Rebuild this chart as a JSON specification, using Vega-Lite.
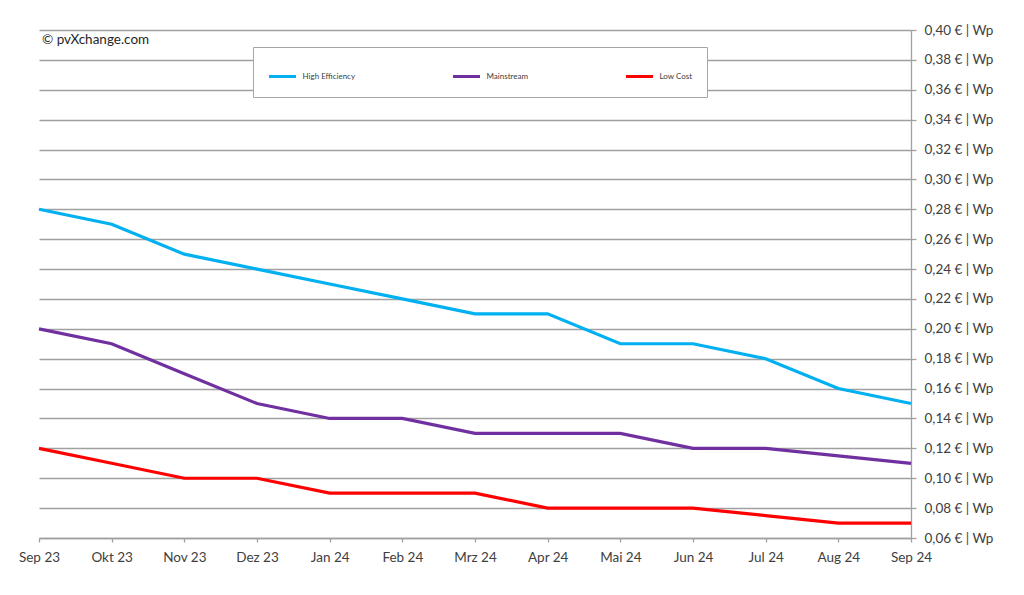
{
  "$schema": "https://vega.github.io/schema/vega-lite/v6.json",
  "width": 872,
  "height": 508,
  "autosize": "none",
  "padding": {"left": 39, "top": 30, "right": 113, "bottom": 57},
  "background": "white",
  "title": {
    "text": "© pvXchange.com",
    "anchor": "start",
    "frame": "group",
    "orient": "top",
    "offset": -10,
    "dx": 3,
    "dy": 20,
    "baseline": "middle",
    "font": "Lato",
    "fontSize": 13.5,
    "fontWeight": "normal",
    "color": "#262626"
  },
  "data": {
    "values": [
      {"month": "Sep 23", "series": "High Efficiency", "price": 0.28},
      {"month": "Okt 23", "series": "High Efficiency", "price": 0.27},
      {"month": "Nov 23", "series": "High Efficiency", "price": 0.25},
      {"month": "Dez 23", "series": "High Efficiency", "price": 0.24},
      {"month": "Jan 24", "series": "High Efficiency", "price": 0.23},
      {"month": "Feb 24", "series": "High Efficiency", "price": 0.22},
      {"month": "Mrz 24", "series": "High Efficiency", "price": 0.21},
      {"month": "Apr 24", "series": "High Efficiency", "price": 0.21},
      {"month": "Mai 24", "series": "High Efficiency", "price": 0.19},
      {"month": "Jun 24", "series": "High Efficiency", "price": 0.19},
      {"month": "Jul 24", "series": "High Efficiency", "price": 0.18},
      {"month": "Aug 24", "series": "High Efficiency", "price": 0.16},
      {"month": "Sep 24", "series": "High Efficiency", "price": 0.15},
      {"month": "Sep 23", "series": "Mainstream", "price": 0.20},
      {"month": "Okt 23", "series": "Mainstream", "price": 0.19},
      {"month": "Nov 23", "series": "Mainstream", "price": 0.17},
      {"month": "Dez 23", "series": "Mainstream", "price": 0.15},
      {"month": "Jan 24", "series": "Mainstream", "price": 0.14},
      {"month": "Feb 24", "series": "Mainstream", "price": 0.14},
      {"month": "Mrz 24", "series": "Mainstream", "price": 0.13},
      {"month": "Apr 24", "series": "Mainstream", "price": 0.13},
      {"month": "Mai 24", "series": "Mainstream", "price": 0.13},
      {"month": "Jun 24", "series": "Mainstream", "price": 0.12},
      {"month": "Jul 24", "series": "Mainstream", "price": 0.12},
      {"month": "Aug 24", "series": "Mainstream", "price": 0.115},
      {"month": "Sep 24", "series": "Mainstream", "price": 0.11},
      {"month": "Sep 23", "series": "Low Cost", "price": 0.12},
      {"month": "Okt 23", "series": "Low Cost", "price": 0.11},
      {"month": "Nov 23", "series": "Low Cost", "price": 0.10},
      {"month": "Dez 23", "series": "Low Cost", "price": 0.10},
      {"month": "Jan 24", "series": "Low Cost", "price": 0.09},
      {"month": "Feb 24", "series": "Low Cost", "price": 0.09},
      {"month": "Mrz 24", "series": "Low Cost", "price": 0.09},
      {"month": "Apr 24", "series": "Low Cost", "price": 0.08},
      {"month": "Mai 24", "series": "Low Cost", "price": 0.08},
      {"month": "Jun 24", "series": "Low Cost", "price": 0.08},
      {"month": "Jul 24", "series": "Low Cost", "price": 0.075},
      {"month": "Aug 24", "series": "Low Cost", "price": 0.07},
      {"month": "Sep 24", "series": "Low Cost", "price": 0.07}
    ]
  },
  "mark": {"type": "line", "strokeWidth": 3.2, "strokeJoin": "miter"},
  "encoding": {
    "x": {
      "field": "month",
      "type": "ordinal",
      "sort": ["Sep 23", "Okt 23", "Nov 23", "Dez 23", "Jan 24", "Feb 24", "Mrz 24", "Apr 24", "Mai 24", "Jun 24", "Jul 24", "Aug 24", "Sep 24"],
      "scale": {"type": "point", "padding": 0},
      "axis": {
        "title": null,
        "labelAngle": 0,
        "grid": false,
        "tickSize": 4,
        "labelPadding": 8
      }
    },
    "y": {
      "field": "price",
      "type": "quantitative",
      "scale": {"domain": [0.06, 0.40], "nice": false, "zero": false},
      "axis": {
        "orient": "right",
        "title": null,
        "values": [0.06, 0.08, 0.10, 0.12, 0.14, 0.16, 0.18, 0.20, 0.22, 0.24, 0.26, 0.28, 0.30, 0.32, 0.34, 0.36, 0.38, 0.40],
        "labelExpr": "replace(format(datum.value, '.2f'), '.', ',') + ' € | Wp'",
        "grid": true,
        "tickSize": 5,
        "labelPadding": 8
      }
    },
    "color": {
      "field": "series",
      "type": "nominal",
      "sort": ["High Efficiency", "Mainstream", "Low Cost"],
      "scale": {
        "domain": ["High Efficiency", "Mainstream", "Low Cost"],
        "range": ["#00b0f0", "#7030a0", "#ff0000"]
      },
      "legend": {
        "title": null,
        "orient": "none",
        "legendX": 214,
        "legendY": 17,
        "direction": "horizontal",
        "columnPadding": 91,
        "padding": 14.5,
        "strokeColor": "#a6a6a6",
        "fillColor": "white",
        "symbolType": "stroke",
        "symbolSize": 729,
        "symbolStrokeWidth": 3,
        "labelOffset": 5,
        "labelFont": "Lato",
        "labelFontSize": 8,
        "labelColor": "#404040"
      }
    }
  },
  "config": {
    "view": {"stroke": null},
    "axis": {
      "labelFont": "Lato",
      "labelFontSize": 13.5,
      "labelColor": "#404040",
      "domainColor": "#a0a0a0",
      "tickColor": "#a0a0a0",
      "gridColor": "#a0a0a0",
      "domainWidth": 1.3,
      "tickWidth": 1.3,
      "gridWidth": 1.3
    }
  }
}
